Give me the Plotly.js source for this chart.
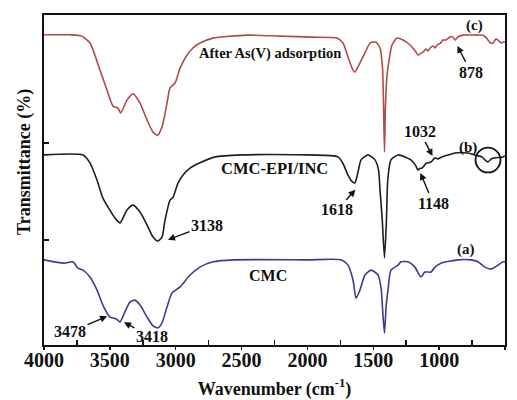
<!DOCTYPE html>
<html>
<head>
<meta charset="utf-8">
<script src="https://cdn.plot.ly/plotly-3.0.1.min.js"></script>
<style>html,body{margin:0;padding:0;background:#fff;}#chart{width:517px;height:400px;}</style>
</head>
<body>
<div id="chart"></div>
<script>
// Series (c): After As(V) adsorption
const wn_c = [4000,3800,3714,3651,3575,3522,3476,3438,3418,3370,3324,3271,3218,3172,3138,3104,3066,3043,3005,2967,2914,2869,2816,2717,2459,2208,1958,1776,1730,1692,1654,1640,1601,1560,1525,1480,1449,1430,1422,1415,1408,1395,1381,1358,1320,1274,1221,1180,1160,1122,1100,1085,1069,1045,1030,1016,990,971,950,918,895,878,860,819,713,667,640,629,610,591,570,553,530,515,500];
const t_c  = [94.0,94.0,93.6,91.5,83.3,77.3,72.4,71.8,70.3,74.2,76.1,73.3,68.2,64.5,63.6,66.1,73.3,77.9,79.4,83.9,87.9,90.0,91.5,93.0,93.9,93.6,93.3,93.0,91.5,87.3,83.3,82.7,85.5,88.8,91.5,91.8,90.0,84.0,72.0,58.5,72.0,82.0,86.0,90.9,93.0,92.4,90.9,89.0,87.9,88.8,89.7,89.1,90.0,90.6,90.0,90.9,91.5,92.4,92.4,93.3,93.3,92.4,93.3,93.9,93.9,93.9,93.0,92.4,91.5,91.5,92.7,92.4,91.5,91.8,91.8];

// Series (b): CMC-EPI/INC
const wn_b = [4000,3704,3651,3598,3553,3500,3462,3423,3370,3324,3271,3218,3172,3138,3104,3081,3043,3020,2982,2944,2891,2816,2700,2500,2000,1800,1768,1730,1692,1660,1640,1618,1593,1540,1487,1460,1449,1432,1415,1400,1390,1366,1312,1260,1214,1180,1160,1148,1130,1100,1085,1060,1032,1010,979,930,880,781,728,675,650,630,600,576,515,500];
const t_b  = [57.6,57.6,55.2,50.0,44.5,40.9,38.5,37.0,40.9,42.4,40.3,36.4,32.7,31.5,32.7,37.9,43.9,44.8,49.1,51.5,53.6,55.2,57.0,57.6,57.6,57.3,57.0,55.0,51.5,49.5,49.1,52.0,56.1,57.6,56.1,53.0,47.0,38.0,26.4,38.0,50.0,56.1,57.6,57.0,56.1,54.5,53.0,53.5,53.6,55.0,55.2,55.5,56.7,56.4,57.0,57.6,58.2,58.2,57.6,57.0,56.0,55.5,56.5,56.7,57.0,57.3];

// Series (a): CMC
const wn_a = [4000,3848,3780,3742,3704,3651,3598,3553,3500,3478,3450,3423,3386,3348,3310,3271,3218,3172,3134,3104,3066,3028,2967,2891,2816,2717,2565,2000,1745,1692,1654,1631,1601,1563,1517,1464,1440,1428,1415,1402,1388,1366,1312,1290,1237,1184,1138,1108,1062,1032,986,857,758,705,652,606,553,515,500];
const t_a  = [25.8,24.8,25.2,23.3,22.7,20.6,16.7,12.1,8.5,8.2,7.9,7.0,10.0,13.0,13.6,12.1,8.5,5.8,5.2,6.7,11.5,15.8,17.6,21.2,23.6,25.2,25.8,25.8,25.8,24.2,19.7,14.2,16.7,21.2,22.7,21.2,17.0,10.0,3.6,12.0,16.7,22.7,24.2,25.2,25.2,23.6,20.6,22.1,22.1,23.6,24.8,25.8,25.8,25.2,23.6,23.0,24.2,25.2,25.2];

// Axis ticks
const xTickVals = [4000,3500,3000,2500,2000,1500,1000,500];
const xTickText = ["4000","3500","3000","2500","2000","1500","1000","500"];
const xMinorVals = [3750,3250,2750,2250,1750,1250,750];

const serif = "Liberation Serif, Times New Roman, serif";

function tr(x, y, color) {
  return {x: x, y: y, type: 'scatter', mode: 'lines',
    line: {color: color, width: 1.6, shape: 'spline', smoothing: 0.6},
    hoverinfo: 'skip', showlegend: false};
}
const data = [
  tr(wn_c, t_c, '#b04a4c'),
  tr(wn_b, t_b, '#1e1e1e'),
  tr(wn_a, t_a, '#3c3c8e')
];

function lab(text, x, y, size) {
  return {text: '<b>' + text + '</b>', x: x, y: y, xref: 'x', yref: 'y', showarrow: false,
    font: {family: serif, size: size || 15, color: '#111'}};
}
function arr(text, x, y, ax, ay) {
  return {text: '<b>' + text + '</b>', x: x, y: y, xref: 'x', yref: 'y', ax: ax, ay: ay,
    showarrow: true, arrowhead: 2, arrowsize: 1, arrowwidth: 1.4, arrowcolor: '#111', standoff: 1,
    font: {family: serif, size: 16, color: '#111'}};
}

const layout = {
  width: 517, height: 400,
  margin: {l: 44, r: 12, t: 15, b: 55, pad: 0},
  paper_bgcolor: '#fff', plot_bgcolor: '#fff',
  font: {family: serif, color: '#111'},
  xaxis: {
    range: [4000, 500], tickvals: xTickVals, ticktext: xTickText,
    ticks: 'outside', ticklen: 3, tickwidth: 1.5, tickcolor: '#111',
    ticklabelstandoff: -7,
    showgrid: false, zeroline: false,
    showline: true, linecolor: '#111', linewidth: 2, mirror: true,
    tickfont: {family: serif, size: 20, color: '#111', weight: 'bold'},
    minor: {tickmode: 'array', tickvals: xMinorVals, ticks: 'inside', ticklen: 5, tickwidth: 1.5, tickcolor: '#111', showgrid: false},
    title: {text: '<b>Wavenumber (cm<sup>-1</sup>)</b>', font: {family: serif, size: 18, color: '#111'}, standoff: 15},
    automargin: false
  },
  yaxis: {
    range: [0, 100], showticklabels: false, showgrid: false, zeroline: false,
    tickvals: [31.8, 61.2], ticks: 'inside', ticklen: 5, tickwidth: 1.5, tickcolor: '#111',
    showline: true, linecolor: '#111', linewidth: 2, mirror: true,
    automargin: false
  },
  annotations: [
    {text: '<b>Transmittance (%)</b>', xref: 'paper', yref: 'paper', x: -0.041, y: 0.555,
     xanchor: 'center', yanchor: 'middle', textangle: -90, showarrow: false,
     font: {family: serif, size: 18, color: '#111'}},
    lab('After As(V) adsorption', 2284, 88.2, 14.5),
    lab('(c)', 728, 96.7, 15),
    arr('878', 865, 90.9, 14, 27),
    arr('1032', 1047, 57.0, -13, -25),
    lab('(b)', 781, 60.0, 15),
    lab('CMC-EPI/INC', 2250, 53.6, 16.5),
    arr('1618', 1631, 47.3, -19, 21),
    arr('1148', 1145, 52.4, 13, 31),
    arr('3138', 3066, 31.8, 40, -15),
    lab('CMC', 2299, 21.2, 16),
    lab('(a)', 796, 28.8, 15),
    arr('3478', 3514, 8.8, -38, 16),
    arr('3418', 3400, 7.0, 29, 15)
  ],
  shapes: [
    {type: 'circle', xref: 'x', yref: 'y', x0: 724, x1: 534, y0: 52.3, y1: 59.8,
     line: {color: '#111', width: 1.8}}
  ]
};

Plotly.newPlot('chart', data, layout, {staticPlot: true, displayModeBar: false});
</script>
</body>
</html>
